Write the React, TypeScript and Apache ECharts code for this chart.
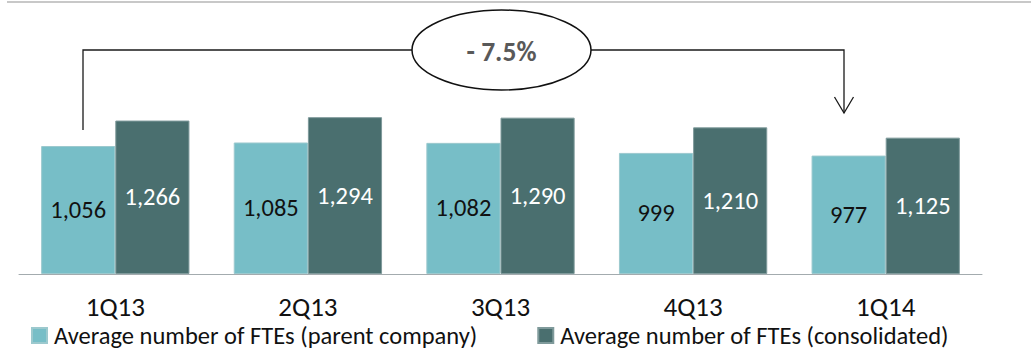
import React, { useEffect, useRef } from "react";
import * as echarts from "echarts";

const quarters = ["1Q13", "2Q13", "3Q13", "4Q13", "1Q14"];
const parentCompany = [1056, 1085, 1082, 999, 977];
const consolidated = [1266, 1294, 1290, 1210, 1125];
const seriesNames = [
  "Average number of FTEs (parent company)",
  "Average number of FTEs (consolidated)",
];
const changeLabel = "- 7.5%";

const FONT = "Carlito, Calibri, Lato, sans-serif";
const LIGHT = "#77bec7";
const DARK = "#4a6f6f";
const INK = "#1a1a1a";

const fmt = (p: any) => Number(p.value).toLocaleString("en-US");

export default function App() {
  const ref = useRef<HTMLDivElement>(null);

  useEffect(() => {
    const chart = echarts.init(ref.current!, null, { renderer: "svg" });
    chart.setOption({
      animation: false,
      grid: { left: 19, right: 49, top: 31.6, bottom: 77 },
      xAxis: {
        type: "category",
        data: quarters,
        axisLine: { lineStyle: { color: "#a3abae", width: 1 } },
        axisTick: { length: 8, lineStyle: { color: "#a3abae" } },
        axisLabel: {
          color: "#111",
          fontSize: 27,
          lineHeight: 27,
          fontFamily: FONT,
          margin: 19,
        },
      },
      yAxis: { type: "value", min: 0, max: 2000, show: false },
      legend: {
        data: seriesNames,
        left: 31,
        top: 323,
        padding: 0,
        itemWidth: 15,
        itemHeight: 15,
        itemGap: 60,
        icon: "rect",
        textStyle: {
          fontSize: 24.5,
          lineHeight: 24,
          fontFamily: FONT,
          color: "#111",
          padding: [0, 0, 0, 2],
        },
      },
      series: [
        {
          name: seriesNames[0],
          type: "bar",
          data: parentCompany,
          barGap: "0%",
          barCategoryGap: "23%",
          itemStyle: { color: LIGHT, borderColor: "#9cc9ce", borderWidth: 1 },
          label: {
            show: true,
            position: "inside",
            color: "#111",
            fontSize: 24.5,
            fontFamily: FONT,
            formatter: fmt,
          },
        },
        {
          name: seriesNames[1],
          type: "bar",
          data: consolidated,
          itemStyle: { color: DARK, borderColor: "#7f9a9b", borderWidth: 1 },
          label: {
            show: true,
            position: "inside",
            color: "#fff",
            fontSize: 24.5,
            fontFamily: FONT,
            formatter: fmt,
          },
        },
      ],
      graphic: [
        {
          type: "line",
          shape: { x1: 7, y1: 2, x2: 1031, y2: 2 },
          style: { stroke: "#c8c8c8", lineWidth: 2 },
        },
        {
          type: "polyline",
          shape: { points: [[83, 130], [83, 50], [412, 50]] },
          style: { stroke: INK, lineWidth: 1.3, fill: "none" },
        },
        {
          type: "polyline",
          shape: { points: [[591, 50], [844, 50], [844, 113]] },
          style: { stroke: INK, lineWidth: 1.3, fill: "none" },
        },
        {
          type: "polyline",
          shape: { points: [[834.5, 97], [844, 113], [853.5, 97]] },
          style: { stroke: INK, lineWidth: 1.3, fill: "none" },
        },
        {
          type: "ellipse",
          shape: { cx: 501.5, cy: 50, rx: 89.5, ry: 40 },
          style: { fill: "#fff", stroke: "#111", lineWidth: 1.5 },
        },
        {
          type: "text",
          x: 501.5,
          y: 51,
          style: {
            text: changeLabel,
            fontSize: 27.5,
            fontWeight: "bold",
            fontFamily: FONT,
            fill: "#595959",
            align: "center",
            verticalAlign: "middle",
          },
        },
      ],
    });
    return () => chart.dispose();
  }, []);

  return (
    <div
      ref={ref}
      style={{ position: "fixed", left: 0, top: 0, width: 1031, height: 351, background: "#fff" }}
    />
  );
}
